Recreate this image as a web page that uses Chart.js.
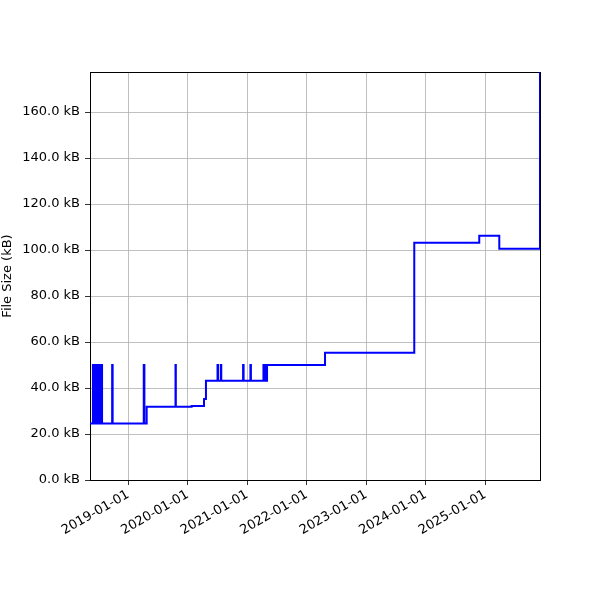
<!DOCTYPE html>
<html>
<head>
<meta charset="utf-8">
<script src="https://cdn.jsdelivr.net/npm/chart.js@4/dist/chart.umd.min.js"></script>
<style>
  html, body { margin: 0; padding: 0; background: #fff; }
  #wrap { width: 600px; height: 600px; }
</style>
</head>
<body>
<div id="wrap"><canvas id="c" width="600" height="600"></canvas></div>
<script>
// Change dates (value holds until the next date)
const dates = [
  '2018-05-11','2018-05-29','2018-06-01','2018-06-04','2018-06-08','2018-06-11',
  '2018-06-15','2018-06-19','2018-06-23','2018-06-27','2018-07-01','2018-07-05',
  '2018-07-09','2018-07-13','2018-07-17','2018-07-20','2018-07-24',
  '2018-09-24','2018-09-27',
  '2019-04-06','2019-04-10','2019-04-24',
  '2019-10-18','2019-10-20',
  '2020-01-25','2020-04-10','2020-04-22',
  '2020-07-02','2020-07-05','2020-07-22','2020-07-25',
  '2020-12-06','2020-12-09','2021-01-20','2021-01-23',
  '2021-04-10','2021-04-14','2021-04-18','2021-04-22','2021-04-26','2021-04-30','2021-05-02',
  '2022-04-23','2023-10-23','2024-11-25','2025-03-28','2025-12-02','2025-12-03'
];
// File size in kB
const sizes = [
  24.6, 50.0, 24.6, 50.0, 24.6, 50.0,
  24.6, 50.0, 24.6, 50.0, 24.6, 50.0,
  24.6, 50.0, 24.6, 50.0, 24.6,
  50.0, 24.6,
  50.0, 24.6, 31.9,
  50.0, 31.9,
  32.2, 35.2, 43.2,
  50.0, 43.2, 50.0, 43.2,
  50.0, 43.2, 50.0, 43.2,
  50.0, 43.2, 50.0, 43.2, 50.0, 43.2, 50.0,
  55.3, 103.2, 106.2, 100.6, 100.6, 177.4
];
const xTickLabels = ['2019-01-01','2020-01-01','2021-01-01','2022-01-01','2023-01-01','2024-01-01','2025-01-01'];
const yTicks = [0, 20, 40, 60, 80, 100, 120, 140, 160];

const toMs = s => Date.parse(s + 'T00:00:00Z');
const points = dates.map((d, i) => ({ x: toMs(d), y: sizes[i] }));
const xMin = toMs(dates[0]);
const xMax = toMs(dates[dates.length - 1]);
const yMax = Math.max(...sizes);
const xTickVals = xTickLabels.map(toMs);
const fmtDate = v => new Date(v).toISOString().slice(0, 10);

const FONT = "'DejaVu Sans', sans-serif";

const frame = {
  id: 'frame',
  beforeDatasetsDraw(chart) {
    const a = chart.chartArea, ctx = chart.ctx;
    ctx.save();
    ctx.strokeStyle = '#000';
    ctx.lineWidth = 1;
    ctx.strokeRect(Math.round(a.left) + 0.5, Math.round(a.top) + 0.5,
                   Math.round(a.right - a.left), Math.round(a.bottom - a.top));
    ctx.restore();
  }
};

new Chart(document.getElementById('c'), {
  type: 'line',
  data: {
    datasets: [{
      data: points,
      borderColor: '#0000ff',
      borderWidth: 2,
      pointRadius: 0,
      stepped: 'before',
      fill: false
    }]
  },
  options: {
    responsive: false,
    animation: false,
    devicePixelRatio: 1,
    layout: { padding: { left: 0, right: 60, top: 72, bottom: 0 } },
    plugins: { legend: { display: false }, tooltip: { enabled: false } },
    scales: {
      x: {
        type: 'linear',
        min: xMin,
        max: xMax,
        afterBuildTicks(scale) { scale.ticks = xTickVals.map(v => ({ value: v })); },
        afterFit(scale) { scale.height = 120; },
        grid: { color: '#b0b0b0', lineWidth: 0.8, tickColor: '#000', tickLength: 5, drawOnChartArea: true },
        border: { display: true, color: '#000', width: 1 },
        ticks: {
          autoSkip: false,
          minRotation: 30,
          maxRotation: 30,
          color: '#000',
          padding: 2,
          font: { family: FONT, size: 13 },
          callback: v => fmtDate(v)
        }
      },
      y: {
        type: 'linear',
        min: 0,
        max: yMax,
        afterBuildTicks(scale) { scale.ticks = yTicks.map(v => ({ value: v })); },
        afterFit(scale) { scale.width = 90; },
        grid: { color: '#b0b0b0', lineWidth: 0.8, tickColor: '#000', tickLength: 5 },
        border: { display: true, color: '#000', width: 1 },
        title: {
          display: true,
          text: 'File Size (kB)',
          color: '#000',
          font: { family: FONT, size: 13 },
          padding: { top: 0, bottom: 4 }
        },
        ticks: {
          color: '#000',
          padding: 5,
          font: { family: FONT, size: 13 },
          callback: v => v.toFixed(1) + ' kB'
        }
      }
    }
  },
  plugins: [frame]
});
</script>
</body>
</html>
